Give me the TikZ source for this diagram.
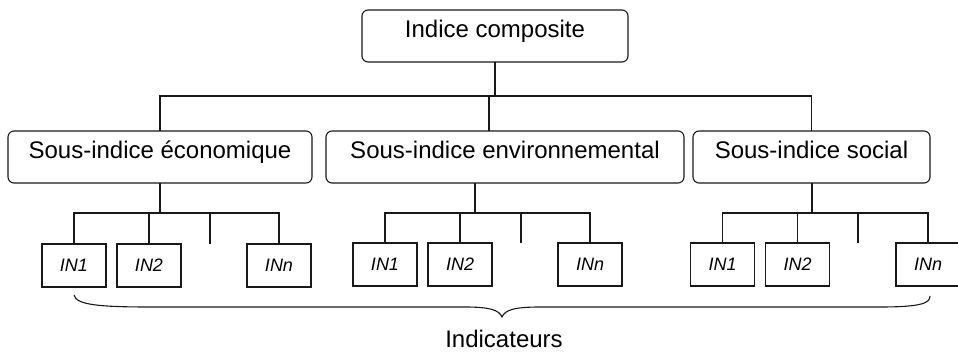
\documentclass[tikz,border=0pt]{standalone}
\usepackage{fontspec}
\setmainfont{Liberation Sans}
\begin{document}
\begin{tikzpicture}[x=1pt,y=-1pt,
  every node/.style={inner sep=0pt,outer sep=0pt},
  bigbox/.style={draw=black!90,line width=1.1pt,rounded corners=6pt,minimum height=52pt,text height=17pt,text depth=14pt,font=\fontsize{24}{28}\selectfont},
  inbox/.style={draw=black!90,line width=1.1pt,minimum width=64pt,minimum height=43pt,text height=13pt,text depth=0pt,font=\fontsize{18}{21}\selectfont\itshape},
  link/.style={draw=black!90,line width=1.1pt},
  thicklink/.style={draw=black!90,line width=2pt}]
\useasboundingbox (0,0) rectangle (958,352);
% top
\node[bigbox,minimum width=266pt] (top) at (495,36) {Indice composite};
% sub indices
\node[bigbox,minimum width=304pt] (eco) at (160,157) {Sous-indice économique};
\node[bigbox,minimum width=358pt] (env) at (505,157) {Sous-indice environnemental};
\node[bigbox,minimum width=237pt] (soc) at (811.5,157) {Sous-indice social};
% indicators
\node[inbox] (a1) at (74,265.5) {IN1};
\node[inbox] (a2) at (149,265.5) {IN2};
\node[inbox] (an) at (279,265.5) {INn};
\node[inbox] (b1) at (385,264.5) {IN1};
\node[inbox] (b2) at (460,264.5) {IN2};
\node[inbox] (bn) at (590,264.5) {INn};
\node[inbox] (c1) at (722.5,264.5) {IN1};
\node[inbox] (c2) at (797.5,264.5) {IN2};
\node[inbox] (cn) at (928,264.5) {INn};
% top bus
\coordinate (j0) at (495,96);
\draw[thicklink] (top.south) -- (j0);
\draw[link] (j0) -| (eco.north);
\draw[link] (j0) -| (soc.north);
\draw[link] ([xshift=-16pt]env.north) |- (j0);
% group buses
\coordinate (ja) at (160,213);
\coordinate (jb) at (475,213);
\coordinate (jc) at (812,213);
\draw[thicklink] (eco.south) -- (ja);
\draw[thicklink] ([xshift=-30pt]env.south) -- (jb);
\draw[thicklink] ([xshift=0.5pt]soc.south) -- (jc);
\foreach \g/\p in {a/ja,b/jb,c/jc}{
  \draw[link] (\p) -| (\g1.north);
  \draw[link] (\p) -| (\g2.north);
  \draw[link] (\p) -| (\g n.north);
}
\coordinate (sa) at (210,244);
\coordinate (sb) at (521,243);
\coordinate (sc) at (858,243);
\draw[link] (sa) |- (ja);
\draw[link] (sb) |- (jb);
\draw[link] (sc) |- (jc);
% brace
\draw[line width=1.1pt,black!90] (74,295) .. controls (76,305) and (100,307) .. (150,307) -- (465,307)
  .. controls (490,307) and (499,310) .. (502,317)
  .. controls (505,310) and (514,307) .. (540,307) -- (880,307)
  .. controls (922,307) and (930,303) .. (930,296);
\node[font=\fontsize{24}{28}\selectfont,anchor=base] (lab) at (504,348) {Indicateurs};
\end{tikzpicture}
\end{document}
